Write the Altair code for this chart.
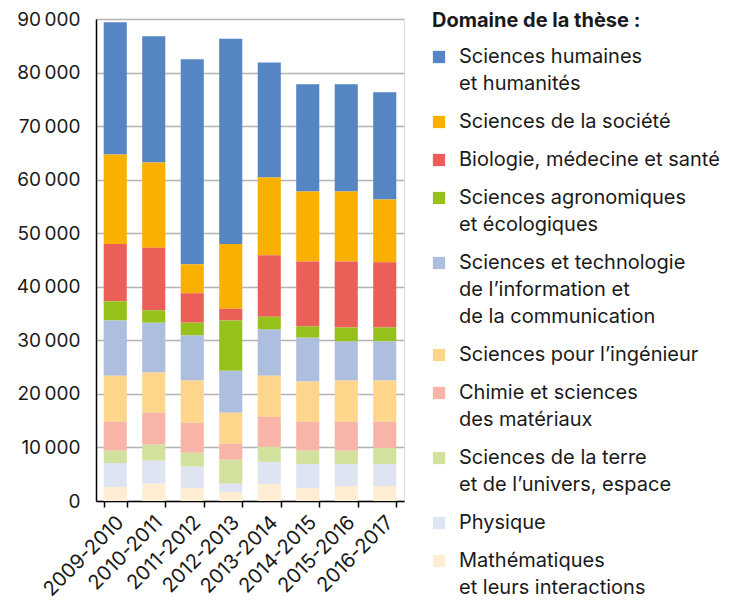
import altair as alt
import pandas as pd

years = ["2009-2010", "2010-2011", "2011-2012", "2012-2013",
         "2013-2014", "2014-2015", "2015-2016", "2016-2017"]

# legend order (top to bottom); stacked in reverse (Mathématiques at the bottom)
domains = [
    "Sciences humaines\net humanités",
    "Sciences de la société",
    "Biologie, médecine et santé",
    "Sciences agronomiques\net écologiques",
    "Sciences et technologie\nde  l’information et\nde la communication",
    "Sciences pour l’ingénieur",
    "Chimie et sciences\ndes matériaux",
    "Sciences de la terre\net de l’univers, espace",
    "Physique",
    "Mathématiques\net leurs interactions",
]

colors = ["#5585C2", "#F9B000", "#EC5F58", "#96C11B", "#AEBEDF",
          "#FDD68B", "#F7B4A7", "#D2E19D", "#DEE4F2", "#FEEDD3"]

hum = [24700, 23600, 38300, 38300, 21500, 20000, 20000, 20000]
soc = [16700, 15900, 5400, 12100, 14500, 13100, 13100, 11700]
bio = [10700, 11700, 5500, 2200, 11500, 12100, 12300, 12200]
agro = [3600, 2300, 2400, 9400, 2400, 2100, 2600, 2600]
stic = [10300, 9300, 8400, 7800, 8600, 8200, 7300, 7300]
ing = [8600, 7500, 7900, 5800, 7700, 7500, 7700, 7700]
chimie = [5400, 6000, 5600, 3000, 5600, 5400, 5400, 4900]
terre = [2300, 3000, 2600, 4500, 2800, 2500, 2500, 3000]
phys = [4500, 4300, 4000, 1500, 4100, 4500, 4100, 4100]
math = [2600, 3200, 2400, 1700, 3200, 2400, 2800, 2800]

series = [hum, soc, bio, agro, stic, ing, chimie, terre, phys, math]

rows = []
for i, (d, vals) in enumerate(zip(domains, series)):
    for y, v in zip(years, vals):
        rows.append({"annee": y, "domaine": d, "effectif": v,
                     "rang": len(domains) - 1 - i})
df = pd.DataFrame(rows)

FONT = "Inter"
TXT = "#1a1a1a"

chart = alt.Chart(df).mark_bar().encode(
    x=alt.X("annee:N", sort=years, title=None,
            scale=alt.Scale(paddingInner=0.4, paddingOuter=0.2),
            axis=alt.Axis(labelAngle=-45, labelAlign="right", labelBaseline="middle",
                          tickBand="extent", tickSize=6, tickWidth=1.5, tickColor="#000",
                          domainColor="#000", domainWidth=1.5,
                          labelFont=FONT, labelFontSize=20, labelColor=TXT,
                          labelPadding=12, labelOffset=5, grid=False)),
    y=alt.Y("effectif:Q", stack="zero", title=None,
            scale=alt.Scale(domain=[0, 90000], nice=False),
            axis=alt.Axis(values=list(range(0, 90001, 10000)),
                          labelExpr="replace(format(datum.value, ','), ',', '\u202f')",
                          ticks=False, grid=True, gridColor="#B4B4B4", gridWidth=1.5,
                          domainColor="#000", domainWidth=1.5,
                          labelFont=FONT, labelFontSize=19, labelColor=TXT,
                          labelPadding=16)),
    color=alt.Color("domaine:N",
                    scale=alt.Scale(domain=domains, range=colors),
                    legend=alt.Legend(
                        title="Domaine de la thèse :", orient="none",
                        legendX=336, legendY=-8,
                        titleFont=FONT, titleFontSize=20, titleFontWeight="bold",
                        titleColor=TXT, titlePadding=16, titleLimit=400,
                        labelExpr="split(datum.label, '\\n')",
                        labelFont=FONT, labelFontSize=20, labelColor=TXT,
                        labelLimit=400, labelOffset=10,
                        symbolType="square",
                        symbolSize=150, symbolStrokeWidth=0, symbolOffset=-3,
                        rowPadding=18)),
    order=alt.Order("rang:Q", sort="ascending"),
).properties(
    width=308, height=482,
    padding={"left": 8, "top": 2, "right": 0, "bottom": 0},
).configure_view(stroke=None).configure(
    style={"guide-label": {"lineHeight": 27}}
)

chart.save("out.html", embed_options={"renderer": "svg", "actions": False})
